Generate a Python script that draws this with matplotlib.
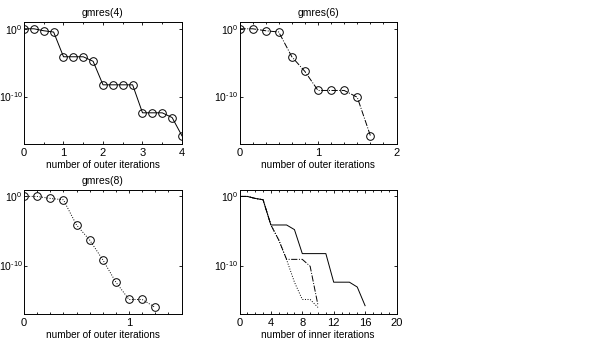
import numpy as np
import matplotlib
matplotlib.use("Agg")
import matplotlib.pyplot as plt
from matplotlib.ticker import FixedLocator, MultipleLocator, NullLocator, FuncFormatter

plt.rcParams['font.family'] = ['Liberation Sans', 'DejaVu Sans']
plt.rcParams['mathtext.fontset'] = 'custom'
plt.rcParams['mathtext.rm'] = 'Liberation Sans'
plt.rcParams['mathtext.it'] = 'Liberation Sans'

# log10 of relative residual
outer4 = np.arange(17) / 4
log_res4 = [0, 0, -0.29, -0.48, -4.13, -4.13, -4.13, -4.8, -8.27, -8.27, -8.27, -8.27,
            -12.4, -12.4, -12.4, -13.1, -15.8]
outer6 = np.arange(11) / 6
log_res6 = [0, 0, -0.29, -0.48, -4.13, -6.3, -9.1, -9.1, -9.1, -10.1, -15.75]
outer8 = np.arange(11) / 8
log_res8 = [0, 0, -0.29, -0.48, -4.13, -6.3, -9.15, -12.4, -14.9, -14.9, -16.05]

titles = ["gmres(4)", "gmres(6)", "gmres(8)", ""]
xlabels = ["number of outer iterations"] * 3 + ["number of inner iterations"]

res4 = 10.0 ** np.array(log_res4)
res6 = 10.0 ** np.array(log_res6)
res8 = 10.0 ** np.array(log_res8)

W, H = 600, 354
fig = plt.figure(figsize=(6, 3.54), dpi=100)

def ax_at(l, t, r, b):
    return fig.add_axes([l / W, 1 - b / H, (r - l) / W, (b - t) / H])

ax1 = ax_at(24, 22, 182, 144)
ax2 = ax_at(239.5, 22, 396.5, 144)
ax3 = ax_at(24, 189.5, 181.5, 314)
ax4 = ax_at(239.5, 189.5, 396.5, 314)

lw = 0.7
ms = 5.5
ax1.semilogy(outer4, res4, '-', color='black', lw=lw, marker='o', ms=ms, mfc='none', mew=0.7)
ax2.semilogy(outer6, res6, '-.', color='black', lw=lw, marker='o', ms=ms, mfc='none', mew=0.7)
ax3.semilogy(outer8, res8, ':', color='black', lw=lw, marker='o', ms=ms, mfc='none', mew=0.7)
ax4.semilogy(outer4 * 4, res4, '-', color='black', lw=lw)
ax4.semilogy(outer6 * 6, res6, '-.', color='black', lw=lw)
ax4.semilogy(outer8 * 8, res8, ':', color='black', lw=lw)

xlims = [(0, 4), (0, 2), (0, 1.5), (0, 20)]
xmaj = [[0, 1, 2, 3, 4], [0, 1, 2], [0, 1], [0, 4, 8, 12, 16, 20]]
xmin = [0.5, 1 / 6, 1 / 8, 1]


def logfmt(v, pos):
    e = int(round(np.log10(v)))
    s = str(e).replace('-', '\u2010')
    return r'$\mathregular{10^{%s}}$' % s


for ax, xl, mj, mn, tt, lab in zip([ax1, ax2, ax3, ax4], xlims, xmaj, xmin, titles, xlabels):
    ax.set_xlim(*xl)
    ax.set_ylim(1e-17, 1e1)
    ax.xaxis.set_major_locator(FixedLocator(mj))
    ax.xaxis.set_minor_locator(MultipleLocator(mn))
    ax.yaxis.set_major_locator(FixedLocator([1e-10, 1e0]))
    ax.yaxis.set_major_formatter(FuncFormatter(logfmt))
    ax.yaxis.set_minor_locator(NullLocator())
    ax.tick_params(which='both', direction='in', top=True, right=True, width=0.6)
    ax.tick_params(axis='x', labelsize=8, pad=3)
    ax.tick_params(axis='y', labelsize=7.5, pad=1)
    ax.tick_params(which='major', length=2.5)
    ax.tick_params(which='minor', length=1.5)
    for s in ax.spines.values():
        s.set_linewidth(0.7)
    if tt:
        ax.set_title(tt, fontsize=7.5, pad=4)
    ax.set_xlabel(lab, fontsize=7.2, labelpad=1.5)

fig.savefig("out.png", dpi=100)
